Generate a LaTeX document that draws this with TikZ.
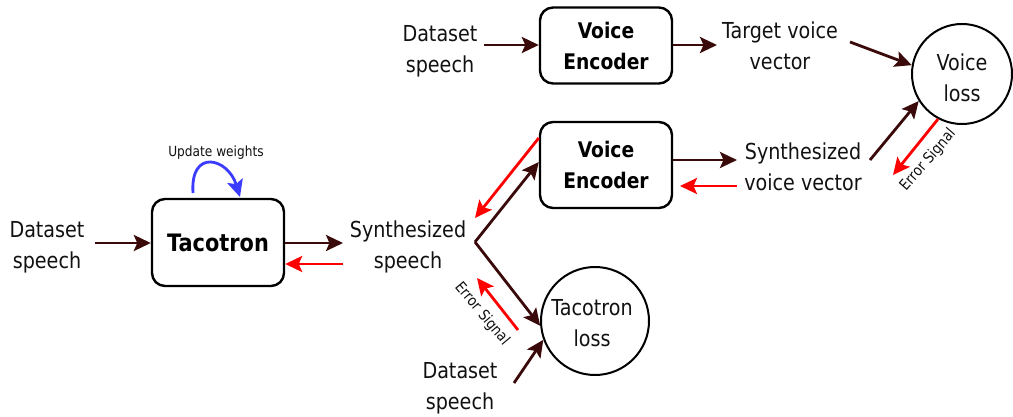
\documentclass[tikz,border=0pt]{standalone}
\usepackage{fontspec}
\setmainfont{DejaVu Sans}[FakeStretch=0.87]
\usetikzlibrary{arrows.meta}
\definecolor{darkarr}{HTML}{3A0A0A}
\definecolor{bluearr}{HTML}{3C3CFF}
\definecolor{txt}{HTML}{111111}
\begin{document}
\begin{tikzpicture}[x=1pt,y=-1pt,
  lbl/.style={align=center,font=\fontsize{22}{31}\selectfont,text=txt,inner sep=0pt},
  boxnode/.style={draw=black,line width=2.4pt,rounded corners=13pt,minimum width=132pt,align=center,font=\fontsize{21.5}{31}\bfseries\selectfont,inner sep=0pt},
  lossnode/.style={draw=black,line width=2pt,circle,align=center,font=\fontsize{22}{31}\selectfont,inner sep=0pt},
  tip/.style={-{Stealth[length=17pt,width=16pt,inset=3.5pt]}},
  fwd/.style={draw=darkarr,line width=2.8pt,tip},
  back/.style={draw=red,line width=2.8pt,tip},
  upd/.style={draw=bluearr,line width=2.8pt,tip},
  errlbl/.style={font=\fontsize{15}{17}\selectfont,text=txt,inner sep=0pt}]
\useasboundingbox (0,0) rectangle (1013,417);
% nodes
\node[lbl] (dsL) at (47,247) {Dataset\\speech};
\node[boxnode,minimum height=87pt] (taco) at (218,242.5) {\fontsize{24}{31}\selectfont Tacotron};
\node[font=\fontsize{14}{16}\selectfont,text=txt,inner sep=0pt] (upd) at (216,153) {Update weights};
\node[lbl] (synS) at (408,247) {Synthesized\\speech};
\coordinate (br) at (475,242);
\node[boxnode,minimum height=86pt] (ve2) at (606,165) {Voice\\Encoder};
\node[boxnode,minimum height=76pt] (ve1) at (606,45.5) {Voice\\Encoder};
\node[lbl] (dsT) at (440,51) {Dataset\\speech};
\node[lbl] (tvv) at (780,46) {Target voice\\vector};
\node[lossnode,minimum size=100pt] (vloss) at (962,74) {};
\node[lbl] (vlossT) at (vloss.center) [yshift=-4pt] {Voice\\loss};
\node[lbl] (svv) at (803,167) {Synthesized\\voice vector};
\node[lossnode,minimum size=108pt] (tloss) at (595,321) {};
\node[lbl] (tlossT) at (592,323) {Tacotron\\loss};
\node[lbl] (dsB) at (460,388) {Dataset\\speech};
% forward arrows
\draw[fwd] (dsL.east |- 0,243) ++(10,0) -- (taco.west |- 0,243);
\draw[fwd] (taco.east |- 0,243) -- (343,243);
\draw[fwd] (br) -- (ve2.west |- 0,162);
\draw[fwd] (br) -- (tloss.185);
\draw[fwd] (dsT.east |- 0,45) ++(6,0) -- (ve1.west |- 0,45);
\draw[fwd] (ve1.east |- 0,45) -- (717,45);
\draw[fwd] (850,42) -- (vloss.170);
\draw[fwd] (ve2.east |- 0,160) -- (737,160);
\draw[fwd] (870,160) -- (vloss.212);
\draw[fwd] (514,383) -- (tloss.200);
% back arrows
\draw[back] (343,264) -- (taco.east |- 0,264);
\draw[back] (ve2.west |- 0,138) -- (475,218);
\draw[back] (737,186) -- (680,186);
\draw[back] (vloss.-118) -- (893,175);
\draw[back] (518,330) -- (477,278);
% update weights arc
\draw[upd] (193,193) .. controls (190,148) and (228,158) .. (240,197);
% error labels
\node[errlbl,rotate=49] (err1) at (928,160) {Error Signal};
\node[errlbl,rotate=-50] (err2) at (482,314) {Error Signal};
\end{tikzpicture}
\end{document}
